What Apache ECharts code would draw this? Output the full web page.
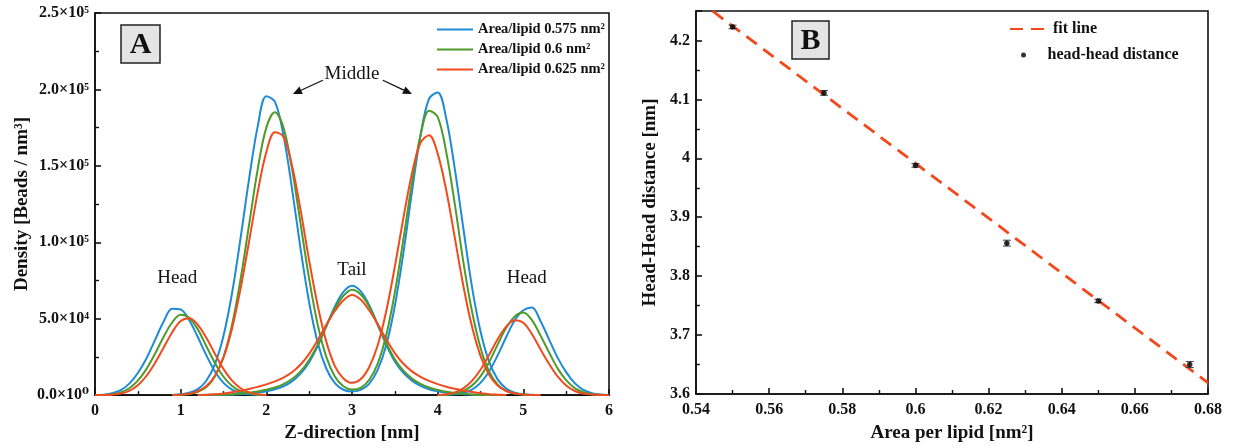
<!DOCTYPE html>
<html><head><meta charset="utf-8">
<script src="https://cdn.jsdelivr.net/npm/echarts@6/dist/echarts.min.js"></script>
<style>html,body{margin:0;padding:0;background:#fff}#c{width:1238px;height:448px}</style>
</head><body><div id="c"></div>
<script>
// ---------- Panel A data (density values in units of 10^3 beads/nm^3) ----------
const UNIT = 1000;
const areaNames = ['Area/lipid 0.575 nm\u00b2', 'Area/lipid 0.6 nm\u00b2', 'Area/lipid 0.625 nm\u00b2'];
const areaColors = ['#1f8bd4', '#4f9a2b', '#f04b1f'];

const headLeftZ = [0.0,0.1,0.2,0.3,0.4,0.5,0.6,0.7,0.8,0.9,1.0,1.1,1.2,1.3,1.4,1.5,1.6,1.7,1.8,1.9,2.0];
const headLeftBlue  = [0,0.3,1.2,3.2,7.5,14.5,24,36,48,56.5,56,49,38,26,15.5,8,3.6,1.4,0.5,0.1,0];
const headLeftGreen = [0,0.1,0.6,1.8,4.5,9.5,17,27,38,47.5,52.5,50.5,43,32,21,12,6,2.6,1,0.3,0];
const headLeftRed   = [0,0,0.3,1,2.8,6.5,12.5,21,31,41,48.5,50.3,46,37.5,27,17,9.5,4.5,1.8,0.6,0.1];

const headRightZ = [4.0,4.1,4.2,4.3,4.4,4.5,4.6,4.7,4.8,4.9,5.0,5.1,5.2,5.3,5.4,5.5,5.6,5.7,5.8,5.9,6.0];
const headRightBlue  = [0,0.1,0.5,1.4,3.6,8,15.5,26,38,49,55.5,57.3,48.5,36.5,24.5,15,7.8,3.4,1.3,0.4,0.1];
const headRightGreen = [0,0.3,1,2.7,6.2,12.3,21.5,33,44,51.5,54,49,39,28,17.5,9.8,4.6,1.9,0.6,0.2,0];
const headRightRed   = [0.1,0.6,1.8,4.4,9.3,16.6,26.3,36.6,44.8,49,47.3,40,30,20.5,12.2,6.3,2.7,1,0.4,0.1,0];

const middleZ = [0.9,1.0,1.1,1.2,1.3,1.4,1.5,1.6,1.7,1.8,1.9,2.0,2.1,2.2,2.3,2.4,2.5,2.6,2.7,2.8,2.9,3.0,3.1,3.2,3.3,3.4,3.5,3.6,3.7,3.8,3.9,4.0,4.1,4.2,4.3,4.4,4.5,4.6,4.7,4.8,4.9,5.0,5.1,5.2];
const middleBlue  = [0.1,0.5,1.5,3.9,9.4,20.2,38.8,66.8,103,142,176,195.5,192,170,135,95.5,60.6,34.3,17.4,7.8,3.5,2.3,3.4,7.4,16.5,32.8,58.3,93,133,170,194,198,181,148,109,71,41.8,21.9,10.3,4.3,1.6,0.55,0.15,0];
const middleGreen = [0.05,0.2,0.7,2.1,5.3,12.2,25,46,76,112,148,175,185,175,148,112,76,46,25,12.2,5.8,3.6,4.8,9.9,20.6,39.3,67,102,139,170,186,182,159,125,87,55,31,15.5,6.9,2.8,1.0,0.3,0.1,0];
const middleRed   = [0.1,0.3,0.9,2.5,5.9,12.7,24.6,43.6,69.9,101,133,159,172,169,150,121,88,58.5,35,19,10.9,8.0,10.3,18.2,32.6,55,84,116,145,165,170,158,134,103,71.4,45,25.7,13.3,6.3,2.7,1.0,0.35,0.1,0];

const tailZ = [1.2,1.3,1.4,1.5,1.6,1.7,1.8,1.9,2.0,2.1,2.2,2.3,2.4,2.5,2.6,2.7,2.8,2.9,3.0,3.1,3.2,3.3,3.4,3.5,3.6,3.7,3.8,3.9,4.0,4.1,4.2,4.3,4.4,4.5,4.6,4.7,4.8];
const tailBlue  = [0,0,0.1,0.2,0.3,0.6,1.0,1.6,2.5,3.8,5.8,9,14,21.5,32,45,58,67.5,71.5,68,59,46,33,22,14.5,9.5,6,3.8,2.5,1.6,1.0,0.6,0.3,0.2,0.1,0,0];
const tailGreen = [0,0.1,0.2,0.3,0.6,1.0,1.6,2.4,3.5,5.0,7.2,10.5,15.5,23,33,45,56.5,65,69,66,58,46,34,23.5,16,10.8,7.3,5,3.4,2.2,1.4,0.8,0.4,0.2,0.1,0,0];
const tailRed   = [0.1,0.2,0.5,1.0,1.8,2.8,4.0,5.4,7.0,9.0,11.5,15,20,27,36,46,55,62,65.5,62.5,55.5,46.5,36.5,27.5,20.5,15.5,12,9.3,7.2,5.5,4.1,2.9,2.0,1.2,0.6,0.3,0.1];

const densityTicks = ['0.0\u00d710\u2070','5.0\u00d710\u2074','1.0\u00d710\u2075','1.5\u00d710\u2075','2.0\u00d710\u2075','2.5\u00d710\u2075'];

// ---------- Panel B data ----------
const areaPerLipid = [0.55, 0.575, 0.6, 0.625, 0.65, 0.675];
const headHead     = [4.223, 4.111, 3.988, 3.856, 3.758, 3.650];
const headHeadErr  = [0.003, 0.004, 0.003, 0.005, 0.003, 0.005];
const fitX = [0.54, 0.68];
const fitY = [4.271, 3.619];

// ---------- styling ----------
const FONT = '"Liberation Serif", "DejaVu Serif", serif';
const chart = echarts.init(document.getElementById('c'));

function pts(xs, ys, k) { return xs.map((x, i) => [x, ys[i] * k]); }

const groupsA = [
  [headLeftBlue, middleBlue, tailBlue, headRightBlue],
  [headLeftGreen, middleGreen, tailGreen, headRightGreen],
  [headLeftRed, middleRed, tailRed, headRightRed]
];
const zGrids = [headLeftZ, middleZ, tailZ, headRightZ];

const seriesA = [];
groupsA.forEach((g, ci) => {
  g.forEach((vals, j) => {
    seriesA.push({
      type: 'line', name: areaNames[ci], xAxisIndex: 0, yAxisIndex: 0,
      data: pts(zGrids[j], vals, UNIT), symbol: 'none', smooth: 0.35,
      lineStyle: { color: areaColors[ci], width: 2 }, itemStyle: { color: areaColors[ci] },
      z: 2 + ci, silent: true
    });
  });
});

const axisCommon = {
  axisLine: { show: true, onZero: false, lineStyle: { color: '#111', width: 1.6 } },
  axisTick: { show: true, inside: true, length: 6, lineStyle: { color: '#111', width: 1.6 } },
  minorTick: { show: true, splitNumber: 2, length: 4, lineStyle: { color: '#111', width: 1.4 } },
  splitLine: { show: false },
  axisLabel: { color: '#111', fontFamily: FONT, fontWeight: 'bold', fontSize: 16, margin: 6 },
  nameTextStyle: { color: '#111', fontFamily: FONT, fontWeight: 'bold', fontSize: 19 },
  nameLocation: 'middle'
};

const legendText = (fs) => ({ fontFamily: FONT, fontWeight: 'bold', fontSize: fs, color: '#111' });

const option = {
  animation: false,
  backgroundColor: '#fff',
  grid: [
    { left: 95, top: 13, width: 514, height: 385, show: true, borderColor: '#111', borderWidth: 1.6, backgroundColor: 'transparent' },
    { left: 696, top: 11, width: 512, height: 383, show: true, borderColor: '#111', borderWidth: 1.6, backgroundColor: 'transparent' }
  ],
  xAxis: [
    Object.assign({}, axisCommon, { gridIndex: 0, type: 'value', min: 0, max: 6, interval: 1,
      name: 'Z-direction [nm]', nameGap: 28,
      axisLabel: Object.assign({}, axisCommon.axisLabel, { margin: 8 }) }),
    Object.assign({}, axisCommon, { gridIndex: 1, type: 'value', min: 0.54, max: 0.68, interval: 0.02,
      name: 'Area per lipid [nm\u00b2]', nameGap: 30,
      axisLabel: Object.assign({}, axisCommon.axisLabel, { margin: 8 }) })
  ],
  yAxis: [
    Object.assign({}, axisCommon, { gridIndex: 0, type: 'value', min: 0, max: 250000, interval: 50000,
      name: 'Density [Beads / nm\u00b3]', nameGap: 63,
      axisLabel: Object.assign({}, axisCommon.axisLabel, { formatter: (v) => densityTicks[Math.round(v / 50000)] || '' }) }),
    Object.assign({}, axisCommon, { gridIndex: 1, type: 'value', min: 3.6, max: 4.25, interval: 0.1,
      name: 'Head-Head distance [nm]', nameGap: 36,
      axisLabel: Object.assign({}, axisCommon.axisLabel, { showMaxLabel: false }) })
  ],
  legend: [
    { data: areaNames, orient: 'vertical', left: 431, top: 17, itemWidth: 36, itemHeight: 2, itemGap: 5,
      itemStyle: { opacity: 0 }, textStyle: legendText(14.5), selectedMode: false },
    { data: ['fit line'], orient: 'vertical', left: 1004, top: 16, itemWidth: 38, itemHeight: 2,
      itemStyle: { opacity: 0 }, textStyle: legendText(16), selectedMode: false },
    { data: ['head-head distance'], orient: 'vertical', left: 1016, top: 42, itemWidth: 38, itemHeight: 5,
      textStyle: legendText(16), selectedMode: false }
  ],
  series: seriesA.concat([
    {
      type: 'line', name: 'fit line', xAxisIndex: 1, yAxisIndex: 1,
      data: fitX.map((x, i) => [x, fitY[i]]), symbol: 'none', clip: true,
      lineStyle: { color: '#f2481b', width: 2.8, type: [13, 8] }, itemStyle: { color: '#f2481b' }, z: 2
    },
    {
      type: 'custom', name: 'error', xAxisIndex: 1, yAxisIndex: 1,
      data: areaPerLipid.map((x, i) => [x, headHead[i], headHeadErr[i]]),
      encode: { x: 0, y: 1 }, z: 3,
      renderItem: function (params, api) {
        const x = api.value(0), y = api.value(1), e = api.value(2);
        const t = api.coord([x, y + e]), b = api.coord([x, y - e]);
        const hw = 4, st = { stroke: '#444', lineWidth: 1 };
        return { type: 'group', children: [
          { type: 'line', shape: { x1: t[0], y1: t[1], x2: b[0], y2: b[1] }, style: st },
          { type: 'line', shape: { x1: t[0] - hw, y1: t[1], x2: t[0] + hw, y2: t[1] }, style: st },
          { type: 'line', shape: { x1: b[0] - hw, y1: b[1], x2: b[0] + hw, y2: b[1] }, style: st }
        ] };
      }
    },
    {
      type: 'scatter', name: 'head-head distance', xAxisIndex: 1, yAxisIndex: 1,
      data: areaPerLipid.map((x, i) => [x, headHead[i]]), symbol: 'circle', symbolSize: 5.5,
      itemStyle: { color: '#000' }, z: 4
    }
  ])
};
chart.setOption(option);

// ---------- annotations ----------
function px(g, p) { return chart.convertToPixel({ xAxisIndex: g, yAxisIndex: g }, p); }
const annTexts = [
  { text: 'Head', at: [0.96, 76600] },
  { text: 'Tail', at: [3.0, 82000] },
  { text: 'Head', at: [5.04, 76600] },
  { text: 'Middle', at: [3.0, 210000] }
];
const arrows = [
  { from: [2.66, 206000], to: [2.31, 197000] },
  { from: [3.36, 206000], to: [3.70, 197000] }
];
const graphics = [];
annTexts.forEach(a => {
  const p = px(0, a.at);
  graphics.push({ type: 'text', x: p[0], y: p[1], style: { text: a.text, fontFamily: FONT, fontSize: 19, fill: '#111', align: 'center', verticalAlign: 'middle' } });
});
arrows.forEach(a => {
  const p0 = px(0, a.from), p1 = px(0, a.to);
  const dx = p1[0] - p0[0], dy = p1[1] - p0[1], L = Math.hypot(dx, dy);
  const ux = dx / L, uy = dy / L, hl = 9, hw = 4;
  const bx = p1[0] - ux * hl, by = p1[1] - uy * hl;
  graphics.push({ type: 'line', shape: { x1: p0[0], y1: p0[1], x2: bx, y2: by }, style: { stroke: '#111', lineWidth: 1.3 } });
  graphics.push({ type: 'polygon', shape: { points: [[p1[0], p1[1]], [bx - uy * hw, by + ux * hw], [bx + uy * hw, by - ux * hw]] }, style: { fill: '#111' } });
});
// panel letters
[[121, 25, 39, 38, 'A'], [792, 21, 37, 38, 'B']].forEach(b => {
  graphics.push({ type: 'rect', shape: { x: b[0], y: b[1], width: b[2], height: b[3] }, style: { fill: '#e4e4e4', stroke: '#222', lineWidth: 1.5 } });
  graphics.push({ type: 'text', x: b[0] + b[2] / 2, y: b[1] + b[3] / 2 + 1, style: { text: b[4], fontFamily: FONT, fontWeight: 'bold', fontSize: 30, fill: '#111', align: 'center', verticalAlign: 'middle' } });
});
chart.setOption({ graphic: graphics });
</script>
</body></html>
